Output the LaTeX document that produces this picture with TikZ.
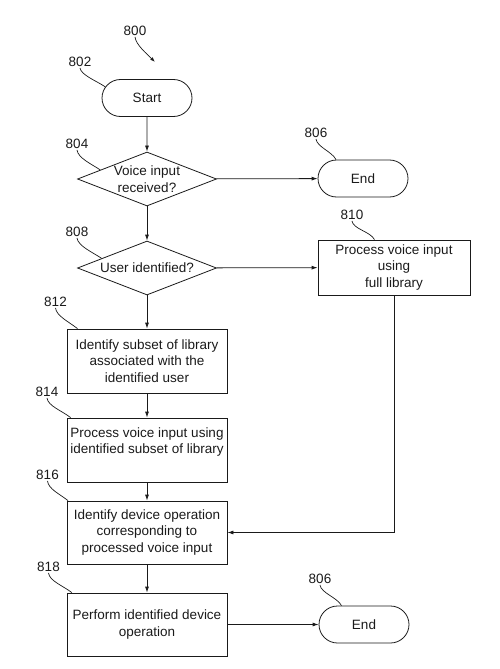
\documentclass[tikz,border=0pt]{standalone}
\usepackage{fontspec}
\setmainfont{Liberation Sans}
\definecolor{FCink}{HTML}{1A1A1A}
\usetikzlibrary{shapes.geometric, shapes.misc, arrows.meta, positioning}
\tikzset{
   fctext/.style={font=\fontsize{13.5}{16.5}\selectfont, align=center, text=FCink},
   termbox/.style={fctext, draw=FCink, line width=0.8pt, shape=rounded rectangle, minimum width=94pt, minimum height=37pt, inner sep=2pt},
   decision/.style={fctext, draw=FCink, line width=0.8pt, shape=diamond, aspect=2.6, inner sep=0pt, minimum width=139pt, minimum height=54pt},
   procbox/.style={fctext, draw=FCink, line width=0.8pt, minimum width=160pt, minimum height=64pt, inner sep=2pt},
   reflabel/.style={fctext, inner sep=1pt},
   flow/.style={draw=FCink, line width=0.8pt, -{Latex[length=6pt,width=4pt]}},
   leader/.style={draw=FCink, line width=0.7pt}
}
\begin{document}
\begin{tikzpicture}[x=1pt, y=-1pt]
            \useasboundingbox (0,0) rectangle (500,669);
            \node[termbox] (start) at (147,98) {Start};
            \node[decision] (d804) at (147,179) {Voice input\\received?};
            \node[termbox] (end1) at (363,178.5) {End};
            \node[decision] (d808) at (147,268) {User identified?};
            \node[procbox, minimum width=152pt, minimum height=55pt] (b810) at (394,267.5) {Process voice input\\using\\full library};
            \node[procbox] (b812) at (147,361) {Identify subset of library\\associated with the\\identified user};
            \node[procbox] (b814) at (147,450) {Process voice input using\\identified subset of library\\[2pt]};
            \node[procbox, minimum height=63pt] (b816) at (147,532.5) {Identify device operation\\corresponding to\\processed voice input};
            \node[procbox, minimum height=63pt] (b818) at (147,624.5) {Perform identified device\\operation};
            \node[termbox] (end2) at (364,624.5) {End};
            \draw[flow] (start) -- (d804);
            \draw[flow] (d804) -- (end1);
            \draw[flow] (d804) -- (d808);
            \draw[flow] (d808) -- (b810);
            \draw[flow] (d808) -- (b812);
            \draw[flow] (b812) -- (b814);
            \draw[flow] (b814) -- (b816);
            \draw[flow] (b816) -- (b818);
            \draw[flow] (b818) -- (end2);
            \draw[flow] (b810.south) |- (b816.east);
            % reference numerals
            \node[reflabel] (l800) at (135,31) {800};
            \node[reflabel] (l802) at (80,62) {802};
            \node[reflabel] (l804) at (77,144) {804};
            \node[reflabel] (l806a) at (316,133) {806};
            \node[reflabel] (l808) at (77,232) {808};
            \node[reflabel] (l810) at (352,215) {810};
            \node[reflabel] (l812) at (55.5,302) {812};
            \node[reflabel] (l814) at (47,392) {814};
            \node[reflabel] (l816) at (47.5,475) {816};
            \node[reflabel] (l818) at (48.5,567) {818};
            \node[reflabel] (l806b) at (320,579) {806};
            \coordinate (p800) at (155,62);
            \draw[leader, -{Latex[length=5pt,width=3.5pt]}] (l800.south) .. controls +(1,8) and +(-8,-8) .. (p800);
            \draw[leader] (l802.south) .. controls +(1,7) and +(-9,-6) .. (start.165);
            \draw[leader] (l804.south) .. controls +(1,8) and +(-9,-6) .. (d804.169);
            \draw[leader] (l806a.south) .. controls +(1,8) and +(-4,-8) .. (end1.145);
            \draw[leader] (l808.south) .. controls +(1,8) and +(-9,-6) .. (d808.168);
            \draw[leader] (l810.south) .. controls +(1,8) and +(-4,-8) .. (b810.125);
            \draw[leader] (l812.south) .. controls +(1,8) and +(-9,-7) .. (b812.155);
            \draw[leader] (l814.south) .. controls +(1,8) and +(-9,-7) .. (b814.157);
            \draw[leader] (l816.south) .. controls +(1,8) and +(-9,-7) .. (b816.158);
            \draw[leader] (l818.south) .. controls +(1,8) and +(-9,-7) .. (b818.157);
            \draw[leader] (l806b.south) .. controls +(1,8) and +(-4,-8) .. (end2.140);
         \end{tikzpicture}
\end{document}
